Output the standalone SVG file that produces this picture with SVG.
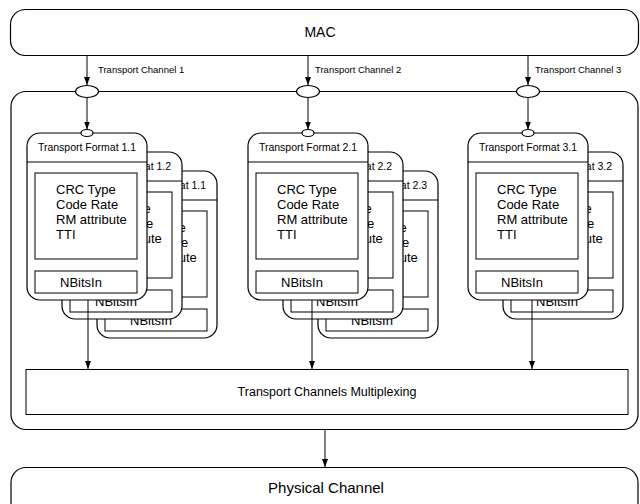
<svg xmlns="http://www.w3.org/2000/svg" width="640" height="504" viewBox="0 0 640 504">
<style>
text{font-family:"Liberation Sans",Arial,sans-serif;fill:#000}
.big{stroke:#000;stroke-width:1.2;fill:#fff}
.box{stroke:#000;stroke-width:1.2;fill:#fff}
.in{stroke:#000;stroke-width:1;fill:#fff}
.ln{stroke:#000;stroke-width:1;fill:none}
.hd{font-size:10.5px;text-anchor:middle}
.ch{font-size:9.5px}
.bd{font-size:13px}
.nb{font-size:13px;text-anchor:middle}
.el{stroke:#000;stroke-width:1.2;fill:#fff}
</style>
<defs>
<marker id="ah" markerWidth="8" markerHeight="8" viewBox="0 0 8 8" refX="8" refY="4" orient="auto" markerUnits="userSpaceOnUse">
<path d="M0,1 L8,4 L0,7 Z" fill="#000"/>
</marker>
</defs>

<g id="mac">
<rect class="big" x="10.5" y="9.5" width="628" height="46" rx="15"/>
<text x="320" y="37" font-size="14" text-anchor="middle">MAC</text>
</g>

<g id="coding">
<rect class="big" x="11" y="91.5" width="627" height="338" rx="15"/>
</g>

<g id="physical">
<rect class="big" x="11" y="467.5" width="627" height="60" rx="15"/>
<text x="326" y="493" font-size="15" text-anchor="middle">Physical Channel</text>
</g>

<g id="mux">
<rect class="in" x="26" y="369.5" width="602" height="45"/>
<text x="327" y="396" font-size="12.5" text-anchor="middle">Transport Channels Multiplexing</text>
</g>

<!-- stack 1 -->
<g id="tf1-3" transform="translate(97,171)">
<rect class="box" x="0" y="0" width="120" height="167" rx="13"/>
<line class="ln" x1="0" y1="29" x2="120" y2="29"/>
<text class="hd" x="60" y="18">Transport Format 1.1</text>
<rect class="in" x="8" y="40" width="102" height="86"/>
<text class="bd" x="29" y="61">CRC Type</text><text class="bd" x="29" y="76">Code Rate</text><text class="bd" x="29" y="91">RM attribute</text><text class="bd" x="29" y="106">TTI</text>
<rect class="in" x="8" y="138" width="102" height="22"/>
<text class="nb" x="54" y="154">NBitsIn</text>
</g>
<g id="tf1-2" transform="translate(62,152)">
<rect class="box" x="0" y="0" width="120" height="167" rx="13"/>
<line class="ln" x1="0" y1="29" x2="120" y2="29"/>
<text class="hd" x="60" y="18">Transport Format 1.2</text>
<rect class="in" x="8" y="40" width="102" height="86"/>
<text class="bd" x="29" y="61">CRC Type</text><text class="bd" x="29" y="76">Code Rate</text><text class="bd" x="29" y="91">RM attribute</text><text class="bd" x="29" y="106">TTI</text>
<rect class="in" x="8" y="138" width="102" height="22"/>
<text class="nb" x="54" y="154">NBitsIn</text>
</g>
<g id="tf1-1" transform="translate(27,133)">
<rect class="box" x="0" y="0" width="120" height="167" rx="13"/>
<line class="ln" x1="0" y1="29" x2="120" y2="29"/>
<text class="hd" x="60" y="18">Transport Format 1.1</text>
<rect class="in" x="8" y="40" width="102" height="86"/>
<text class="bd" x="29" y="61">CRC Type</text><text class="bd" x="29" y="76">Code Rate</text><text class="bd" x="29" y="91">RM attribute</text><text class="bd" x="29" y="106">TTI</text>
<rect class="in" x="8" y="138" width="102" height="22"/>
<text class="nb" x="54" y="154">NBitsIn</text>
</g>

<!-- stack 2 -->
<g id="tf2-3" transform="translate(318,171)">
<rect class="box" x="0" y="0" width="120" height="167" rx="13"/>
<line class="ln" x1="0" y1="29" x2="120" y2="29"/>
<text class="hd" x="60" y="18">Transport Format 2.3</text>
<rect class="in" x="8" y="40" width="102" height="86"/>
<text class="bd" x="29" y="61">CRC Type</text><text class="bd" x="29" y="76">Code Rate</text><text class="bd" x="29" y="91">RM attribute</text><text class="bd" x="29" y="106">TTI</text>
<rect class="in" x="8" y="138" width="102" height="22"/>
<text class="nb" x="54" y="154">NBitsIn</text>
</g>
<g id="tf2-2" transform="translate(283,152)">
<rect class="box" x="0" y="0" width="120" height="167" rx="13"/>
<line class="ln" x1="0" y1="29" x2="120" y2="29"/>
<text class="hd" x="60" y="18">Transport Format 2.2</text>
<rect class="in" x="8" y="40" width="102" height="86"/>
<text class="bd" x="29" y="61">CRC Type</text><text class="bd" x="29" y="76">Code Rate</text><text class="bd" x="29" y="91">RM attribute</text><text class="bd" x="29" y="106">TTI</text>
<rect class="in" x="8" y="138" width="102" height="22"/>
<text class="nb" x="54" y="154">NBitsIn</text>
</g>
<g id="tf2-1" transform="translate(248,133)">
<rect class="box" x="0" y="0" width="120" height="167" rx="13"/>
<line class="ln" x1="0" y1="29" x2="120" y2="29"/>
<text class="hd" x="60" y="18">Transport Format 2.1</text>
<rect class="in" x="8" y="40" width="102" height="86"/>
<text class="bd" x="29" y="61">CRC Type</text><text class="bd" x="29" y="76">Code Rate</text><text class="bd" x="29" y="91">RM attribute</text><text class="bd" x="29" y="106">TTI</text>
<rect class="in" x="8" y="138" width="102" height="22"/>
<text class="nb" x="54" y="154">NBitsIn</text>
</g>

<!-- stack 3 -->
<g id="tf3-2" transform="translate(503,152)">
<rect class="box" x="0" y="0" width="120" height="167" rx="13"/>
<line class="ln" x1="0" y1="29" x2="120" y2="29"/>
<text class="hd" x="60" y="18">Transport Format 3.2</text>
<rect class="in" x="8" y="40" width="102" height="86"/>
<text class="bd" x="29" y="61">CRC Type</text><text class="bd" x="29" y="76">Code Rate</text><text class="bd" x="29" y="91">RM attribute</text><text class="bd" x="29" y="106">TTI</text>
<rect class="in" x="8" y="138" width="102" height="22"/>
<text class="nb" x="54" y="154">NBitsIn</text>
</g>
<g id="tf3-1" transform="translate(468,133)">
<rect class="box" x="0" y="0" width="120" height="167" rx="13"/>
<line class="ln" x1="0" y1="29" x2="120" y2="29"/>
<text class="hd" x="60" y="18">Transport Format 3.1</text>
<rect class="in" x="8" y="40" width="102" height="86"/>
<text class="bd" x="29" y="61">CRC Type</text><text class="bd" x="29" y="76">Code Rate</text><text class="bd" x="29" y="91">RM attribute</text><text class="bd" x="29" y="106">TTI</text>
<rect class="in" x="8" y="138" width="102" height="22"/>
<text class="nb" x="54" y="154">NBitsIn</text>
</g>

<g id="connectors">
<line class="ln" x1="87" y1="55.5" x2="87" y2="85" marker-end="url(#ah)"/>
<line class="ln" x1="308" y1="55.5" x2="308" y2="85" marker-end="url(#ah)"/>
<line class="ln" x1="528" y1="55.5" x2="528" y2="85" marker-end="url(#ah)"/>
<line class="ln" x1="87" y1="97" x2="87" y2="129.5" marker-end="url(#ah)"/>
<line class="ln" x1="308" y1="97" x2="308" y2="129.5" marker-end="url(#ah)"/>
<line class="ln" x1="528" y1="97" x2="528" y2="129.5" marker-end="url(#ah)"/>
<line class="ln" x1="88" y1="300" x2="88" y2="369" marker-end="url(#ah)"/>
<line class="ln" x1="312" y1="300" x2="312" y2="369" marker-end="url(#ah)"/>
<line class="ln" x1="532" y1="300" x2="532" y2="369" marker-end="url(#ah)"/>
<line class="ln" x1="325" y1="430" x2="325" y2="467" marker-end="url(#ah)"/>
</g>

<g id="ports">
<ellipse class="el" cx="87" cy="91.5" rx="11.5" ry="6"/>
<ellipse class="el" cx="308" cy="91.5" rx="11.5" ry="6"/>
<ellipse class="el" cx="528" cy="91.5" rx="11.5" ry="6"/>
<ellipse class="el" cx="87" cy="133" rx="6" ry="3.5"/>
<ellipse class="el" cx="308" cy="133" rx="6" ry="3.5"/>
<ellipse class="el" cx="528" cy="133" rx="6" ry="3.5"/>
</g>

<g id="labels">
<text class="ch" x="98" y="73">Transport Channel 1</text>
<text class="ch" x="315" y="73">Transport Channel 2</text>
<text class="ch" x="535" y="73">Transport Channel 3</text>
</g>
</svg>
